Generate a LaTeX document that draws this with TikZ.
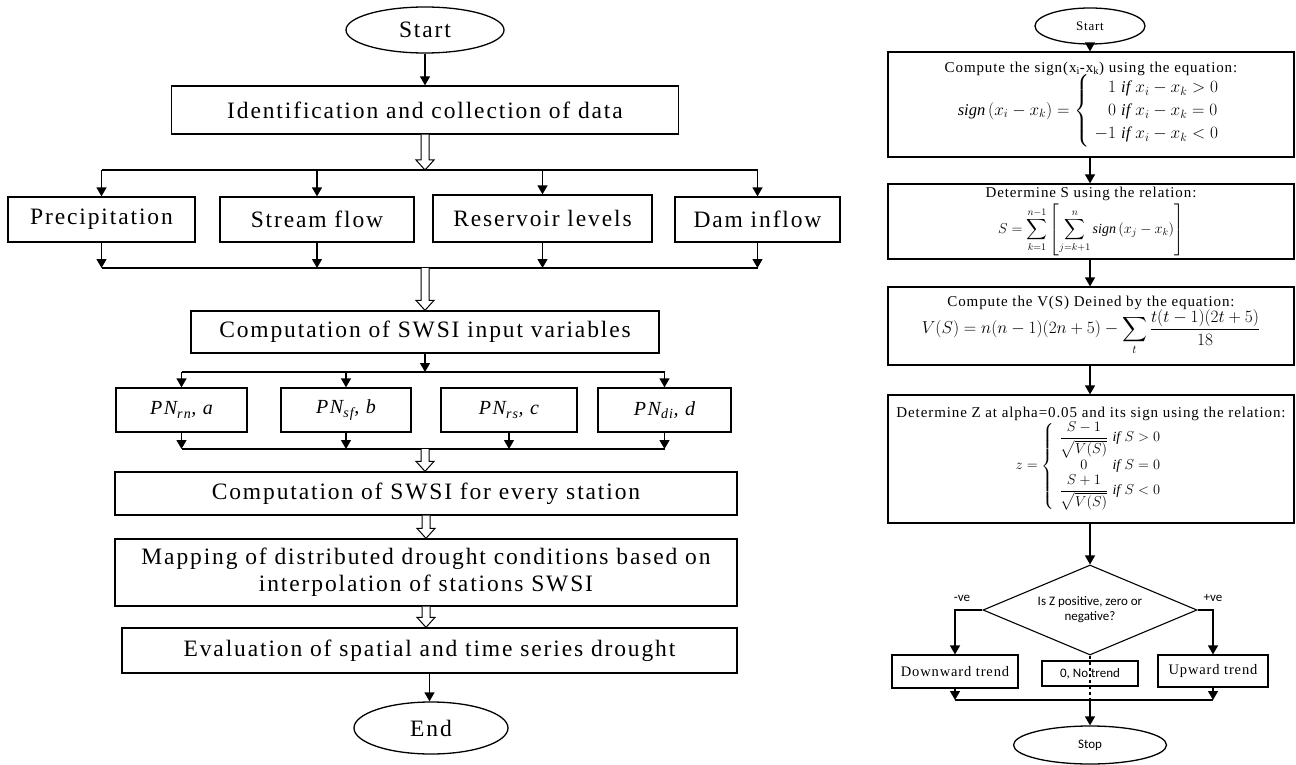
\documentclass[tikz,border=0pt]{standalone}
\usepackage{amsmath}
\usepackage{fontspec}
\setmainfont{Liberation Serif}
\newfontfamily\boxfont[LetterSpace=8]{Liberation Serif}
\newfontfamily\titlefont[LetterSpace=6]{Liberation Serif}
\newfontfamily\notefont{Carlito}
\usepackage{tikz}
\usetikzlibrary{shapes.geometric, arrows.meta, positioning, calc}

% open block arrow between two boxes of the left chart
\newcommand{\hollowarr}[2]{%
  \coordinate (ha-tip) at (#1 |- #2);
  \draw[line width=1pt, fill=white] ($(#1)+(-4,0)$) -- ($(ha-tip)+(-4,-10)$) -- ($(ha-tip)+(-9,-10)$) -- (ha-tip)
    -- ($(ha-tip)+(9,-10)$) -- ($(ha-tip)+(4,-10)$) -- ($(#1)+(4,0)$);}

\begin{document}
\begin{tikzpicture}[x=1pt, y=-1pt,
  box/.style={draw, line width=1.3pt, inner sep=2pt, align=center},
  term/.style={draw, ellipse, line width=1.3pt, inner sep=0pt},
  arr/.style={line width=1.3pt, -{Triangle[width=10pt, length=9pt]}},
  link/.style={line width=1.3pt},
  lbl/.style={font=\boxfont\fontsize{23.5}{27}\selectfont},
  pn/.style={font=\boxfont\itshape\fontsize{20}{24}\selectfont},
  rbox/.style={draw, line width=1.2pt, align=center, minimum width=406pt, font=\titlefont\fontsize{15}{18}\selectfont},
  small/.style={font=\titlefont\fontsize{14.5}{17}\selectfont},
  note/.style={font=\notefont\fontsize{13}{15}\selectfont}]
\useasboundingbox (0,0) rectangle (1296,765);

% Left chart
\node[term, lbl, minimum width=158pt, minimum height=46pt] (start) at (425,30) {Start};
\node[box, lbl, minimum width=507pt, minimum height=48pt] (ident) at (425,110) {Identification and collection of data};
\coordinate (split) at (425,170);
\hollowarr{ident.south}{split}
\draw[arr] (start.south) -- (start.south |- ident.north);
% data sources
\node[box, lbl, minimum width=187pt, minimum height=45pt] (precip) at (101.5,219.5) {Precipitation};
\node[box, lbl, minimum width=194pt, minimum height=45pt] (stream) at (317,219.5) {Stream flow};
\node[box, lbl, minimum width=219pt, minimum height=47pt] (resv) at (542.5,218.5) {Reservoir levels};
\node[box, lbl, minimum width=165pt, minimum height=45pt] (dam) at (757.5,219.5) {Dam inflow};
\draw[link] (precip.north |- split) -- (dam.north |- split);
\foreach \n in {precip,stream,resv,dam}
  \draw[arr] (\n.north |- split) -- (\n.north);
\coordinate (merge) at (425,268);
\draw[link] (precip.south |- merge) -- (dam.south |- merge);
\foreach \n in {precip,stream,resv,dam}
  \draw[arr] (\n.south) -- (\n.south |- merge);
% input variables
\node[box, lbl, minimum width=468pt, minimum height=42pt] (comp) at (425,332) {Computation of SWSI input variables};
\hollowarr{merge}{comp.north}
\coordinate (fan) at (425,372);
\draw[arr] (comp.south) -- (fan);
\node[box, pn, minimum width=131pt, minimum height=44pt] (pnrn) at (181.5,410) {PN\textsubscript{rn}, a};
\node[box, pn, minimum width=130pt, minimum height=44pt] (pnsf) at (346,410) {PN\textsubscript{sf}, b};
\node[box, pn, minimum width=136pt, minimum height=44pt] (pnrs) at (509,410) {PN\textsubscript{rs}, c};
\node[box, pn, minimum width=133pt, minimum height=44pt] (pndi) at (664.5,410) {PN\textsubscript{di}, d};
\draw[link] (pnrn.north |- fan) -- (pndi.north |- fan);
\foreach \n in {pnrn,pnsf,pndi}
  \draw[arr] (\n.north |- fan) -- (\n.north);
\coordinate (join) at (425,449);
\draw[link] (pnrn.south |- join) -- (pndi.south |- join);
\foreach \n in {pnrn,pnsf,pnrs,pndi}
  \draw[arr] (\n.south) -- (\n.south |- join);
% index and mapping
\node[box, lbl, minimum width=622pt, minimum height=43pt] (station) at (426,493.5) {Computation of SWSI for every station};
\hollowarr{join}{station.north}
\node[box, lbl, minimum width=622pt, minimum height=67pt] (map) at (426,572.5) {Mapping of distributed drought conditions based on\\interpolation of stations SWSI};
\hollowarr{station.south}{map.north}
\node[box, lbl, minimum width=615pt, minimum height=45pt] (eval) at (429.5,650.5) {Evaluation of spatial and time series drought};
\hollowarr{map.south}{eval.north}
\node[term, lbl, minimum width=154pt, minimum height=52pt] (end) at (431,728) {End};
\draw[arr] (eval.south) -- (eval.south |- end.north);

% Right chart
\node[term, note, minimum width=110pt, minimum height=36pt] (rstart) at (1090,26) {\titlefont Start};
\node[rbox, minimum height=105pt] (b1) at (1091,104.5) {Compute the sign(x\textsubscript{i}-x\textsubscript{k}) using the equation:\\[-2pt]
  {\fontsize{16.5}{20}\selectfont\renewcommand{\arraystretch}{1.15}$\mathit{sign}\left(x_i - x_k\right) = \left\{\begin{array}{r@{\ }l} 1 & \mathit{if}\ x_i - x_k > 0\\ 0 & \mathit{if}\ x_i - x_k = 0\\ -1 & \mathit{if}\ x_i - x_k < 0\end{array}\right.$}};
\node[rbox, minimum height=75pt] (b2) at (1091,221.5) {Determine S using the relation:\\[2pt]
  {\fontsize{14}{17}\selectfont$\displaystyle S = \sum_{k=1}^{n-1}\left[\sum_{j=k+1}^{n}\mathit{sign}\left(x_j - x_k\right)\right]$}};
\node[rbox, minimum height=78pt] (b3) at (1091,326) {Compute the V(S) Deined by the equation:\\[-2pt]
  {\fontsize{16.5}{20}\selectfont$\displaystyle V(S) = n(n-1)(2n+5) - \sum_t \frac{t(t-1)(2t+5)}{18}$}};
\node[rbox, minimum height=128pt] (b4) at (1091,459) {Determine Z at alpha=0.05 and its sign using the relation:\\
  {\fontsize{14}{17}\selectfont$z = \left\{\begin{array}{c@{\ }l} \dfrac{S-1}{\sqrt{V(S)}} & \mathit{if}\ S > 0\\[2pt] 0 & \mathit{if}\ S = 0\\ \dfrac{S+1}{\sqrt{V(S)}} & \mathit{if}\ S < 0\end{array}\right.$}};
\draw[arr] (rstart.south) -- (rstart.south |- b1.north);
\draw[arr] (b1.south -| rstart) -- (b2.north -| rstart);
\draw[arr] (b2.south -| rstart) -- (b3.north -| rstart);
\draw[arr] (b3.south -| rstart) -- (b4.north -| rstart);
% decision
\node[draw, diamond, aspect=2.38, line width=1.1pt, inner sep=0pt, minimum width=214pt, minimum height=90pt, align=center, note] (dec) at (1090,610) {Is Z positive, zero or\\negative?};
\draw[arr] (b4.south -| rstart) -- (dec.north);
\node[draw, line width=1.1pt, minimum width=126pt, minimum height=33pt, small] (down) at (955,671.5) {Downward trend};
\node[draw, line width=1.1pt, minimum width=96pt, minimum height=25pt, note] (none) at (1090,673.5) {0, No trend};
\node[draw, line width=1.1pt, minimum width=110pt, minimum height=32pt, small] (up) at (1213,671) {Upward trend};
\draw[arr] (dec.west) -| (down.north);
\draw[arr] (dec.east) -| (up.north);
\node[note] (neg) at (962,598) {-ve};
\node[note] (pos) at (1213,598) {+ve};
\coordinate (merge2) at (1090,700);
\draw[link, dashed] (dec.south) -- (merge2);
\draw[link] (down.south |- merge2) -- (up.south |- merge2);
\draw[arr] (down.south) -- (down.south |- merge2);
\draw[arr] (up.south) -- (up.south |- merge2);
\node[term, note, minimum width=153pt, minimum height=38pt] (stop) at (1090,745) {Stop};
\draw[arr] (merge2) -- (stop.north);
\end{tikzpicture}
\end{document}
